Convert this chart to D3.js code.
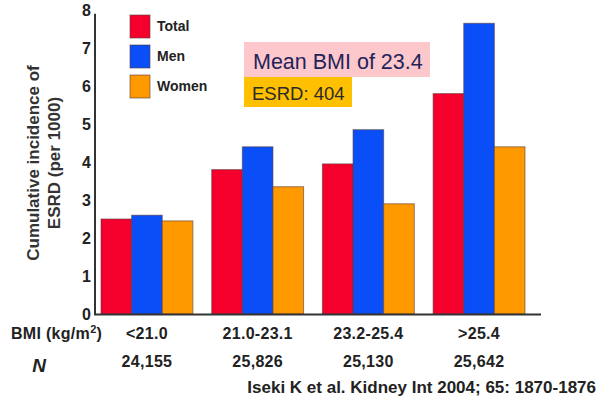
<!DOCTYPE html>
<html>
<head>
<meta charset="utf-8">
<script src="https://cdn.jsdelivr.net/npm/d3@7/dist/d3.min.js"></script>
<style>
  html, body { margin: 0; padding: 0; background: #fff; }
  svg { display: block; font-family: Arial, "Liberation Sans", Helvetica, sans-serif; }
</style>
</head>
<body>
<svg id="chart" width="598" height="396"></svg>
<script>
// BMI categories, cohort sizes and cumulative ESRD incidence (per 1000)
const categories = ["<21.0", "21.0-23.1", "23.2-25.4", ">25.4"];
const counts = ["24,155", "25,826", "25,130", "25,642"];
const seriesNames = ["Total", "Men", "Women"];
const totalValues = [2.5, 3.8, 3.95, 5.8];
const menValues = [2.6, 4.4, 4.85, 7.65];
const womenValues = [2.45, 3.35, 2.9, 4.4];
const yTicks = [0, 1, 2, 3, 4, 5, 6, 7, 8];
const colors = ["#f5002d", "#0a4ef7", "#ff9900"];

const svg = d3.select("#chart");

const x0 = d3.scaleBand()
  .domain(categories)
  .range([101, 525])
  .paddingInner(0.17)
  .paddingOuter(0);

const x1 = d3.scaleBand()
  .domain(seriesNames)
  .range([0, x0.bandwidth()])
  .padding(0);

const y = d3.scaleLinear()
  .domain([0, 8])
  .range([314, 10]);

const rows = categories.map((c, i) => ({
  cat: c,
  vals: [totalValues[i], menValues[i], womenValues[i]]
}));

// bars
const groups = svg.append("g").selectAll("g")
  .data(rows)
  .join("g")
  .attr("transform", d => `translate(${x0(d.cat)},0)`);

groups.selectAll("rect")
  .data(d => d.vals.map((v, j) => ({ name: seriesNames[j], v, j })))
  .join("rect")
  .attr("x", d => x1(d.name))
  .attr("y", d => y(d.v))
  .attr("width", x1.bandwidth())
  .attr("height", d => y(0) - y(d.v))
  .attr("fill", d => colors[d.j])
  .attr("stroke", "#5a3a3a")
  .attr("stroke-opacity", 0.6)
  .attr("stroke-width", 1);

// axes
const yAxis = d3.axisLeft(y).tickValues(yTicks).tickSize(0).tickPadding(4).tickFormat(d3.format("d"));
const gy = svg.append("g").attr("transform", "translate(95,0)").call(yAxis);
gy.select(".domain").remove();
gy.selectAll("text")
  .attr("font-size", 16)
  .attr("font-weight", "bold")
  .attr("fill", "#222");

svg.append("line")
  .attr("x1", 95).attr("x2", 95)
  .attr("y1", y(7.9)).attr("y2", y(0) + 1)
  .attr("stroke", "#333").attr("stroke-width", 2);
svg.append("line")
  .attr("x1", 94).attr("x2", 541)
  .attr("y1", y(0) + 0.5).attr("y2", y(0) + 0.5)
  .attr("stroke", "#333").attr("stroke-width", 2);

// y axis title
const yTitle = svg.append("text")
  .attr("transform", "translate(39,163) rotate(-90)")
  .attr("text-anchor", "middle")
  .attr("font-size", 17)
  .attr("font-weight", "bold")
  .attr("fill", "#333");
yTitle.append("tspan").attr("x", 0).attr("dy", 0).text("Cumulative incidence of");
yTitle.append("tspan").attr("x", 0).attr("dy", 21).text("ESRD (per 1000)");

// legend
const legend = svg.append("g");
seriesNames.forEach((name, i) => {
  legend.append("rect")
    .attr("x", 130).attr("y", 15 + i * 30)
    .attr("width", 20).attr("height", 23)
    .attr("fill", colors[i])
    .attr("stroke", "#5a3a3a").attr("stroke-opacity", 0.6);
  legend.append("text")
    .attr("x", 157).attr("y", 26 + i * 30)
    .attr("dy", "0.35em")
    .attr("font-size", 14)
    .attr("font-weight", "bold")
    .attr("fill", "#222")
    .text(name);
});

// annotation boxes
svg.append("rect").attr("x", 244).attr("y", 42).attr("width", 186).attr("height", 35).attr("fill", "#fcc8cc");
svg.append("text").attr("x", 253).attr("y", 69)
  .attr("font-size", 21.5).attr("fill", "#23235a")
  .text("Mean BMI of 23.4");
svg.append("rect").attr("x", 244).attr("y", 77).attr("width", 108).attr("height", 30).attr("fill", "#ffc000");
svg.append("text").attr("x", 252).attr("y", 100)
  .attr("font-size", 18.5).attr("fill", "#2a2a2a")
  .text("ESRD: 404");

// category and count labels
const labelSize = 16;
const bmiLabel = svg.append("text").attr("x", 11).attr("y", 339)
  .attr("font-size", labelSize).attr("font-weight", "bold")
  .attr("fill", "#222").attr("letter-spacing", 0.3);
bmiLabel.append("tspan").text("BMI (kg/m");
bmiLabel.append("tspan").attr("font-size", 11).attr("dy", -6).text("2");
bmiLabel.append("tspan").attr("dy", 6).text(")");

svg.append("text").attr("x", 39).attr("y", 372)
  .attr("text-anchor", "middle")
  .attr("font-size", 19).attr("font-weight", "bold").attr("font-style", "italic")
  .attr("fill", "#222").text("N");

svg.append("g").selectAll("text.cat")
  .data(categories)
  .join("text")
  .attr("class", "cat")
  .attr("x", d => x0(d) + x0.bandwidth() / 2)
  .attr("y", 339)
  .attr("text-anchor", "middle")
  .attr("font-size", labelSize).attr("font-weight", "bold")
  .attr("letter-spacing", 0.3)
  .attr("fill", "#222")
  .text(d => d);

svg.append("g").selectAll("text.cnt")
  .data(counts)
  .join("text")
  .attr("class", "cnt")
  .attr("x", (d, i) => x0(categories[i]) + x0.bandwidth() / 2)
  .attr("y", 367)
  .attr("text-anchor", "middle")
  .attr("font-size", labelSize).attr("font-weight", "bold")
  .attr("letter-spacing", 0.3)
  .attr("fill", "#222")
  .text(d => d);

// source
svg.append("text").attr("x", 596).attr("y", 393)
  .attr("text-anchor", "end")
  .attr("font-size", 17).attr("font-weight", "bold")
  .attr("fill", "#222")
  .text("Iseki K et al. Kidney Int 2004; 65: 1870-1876");
</script>
</body>
</html>
